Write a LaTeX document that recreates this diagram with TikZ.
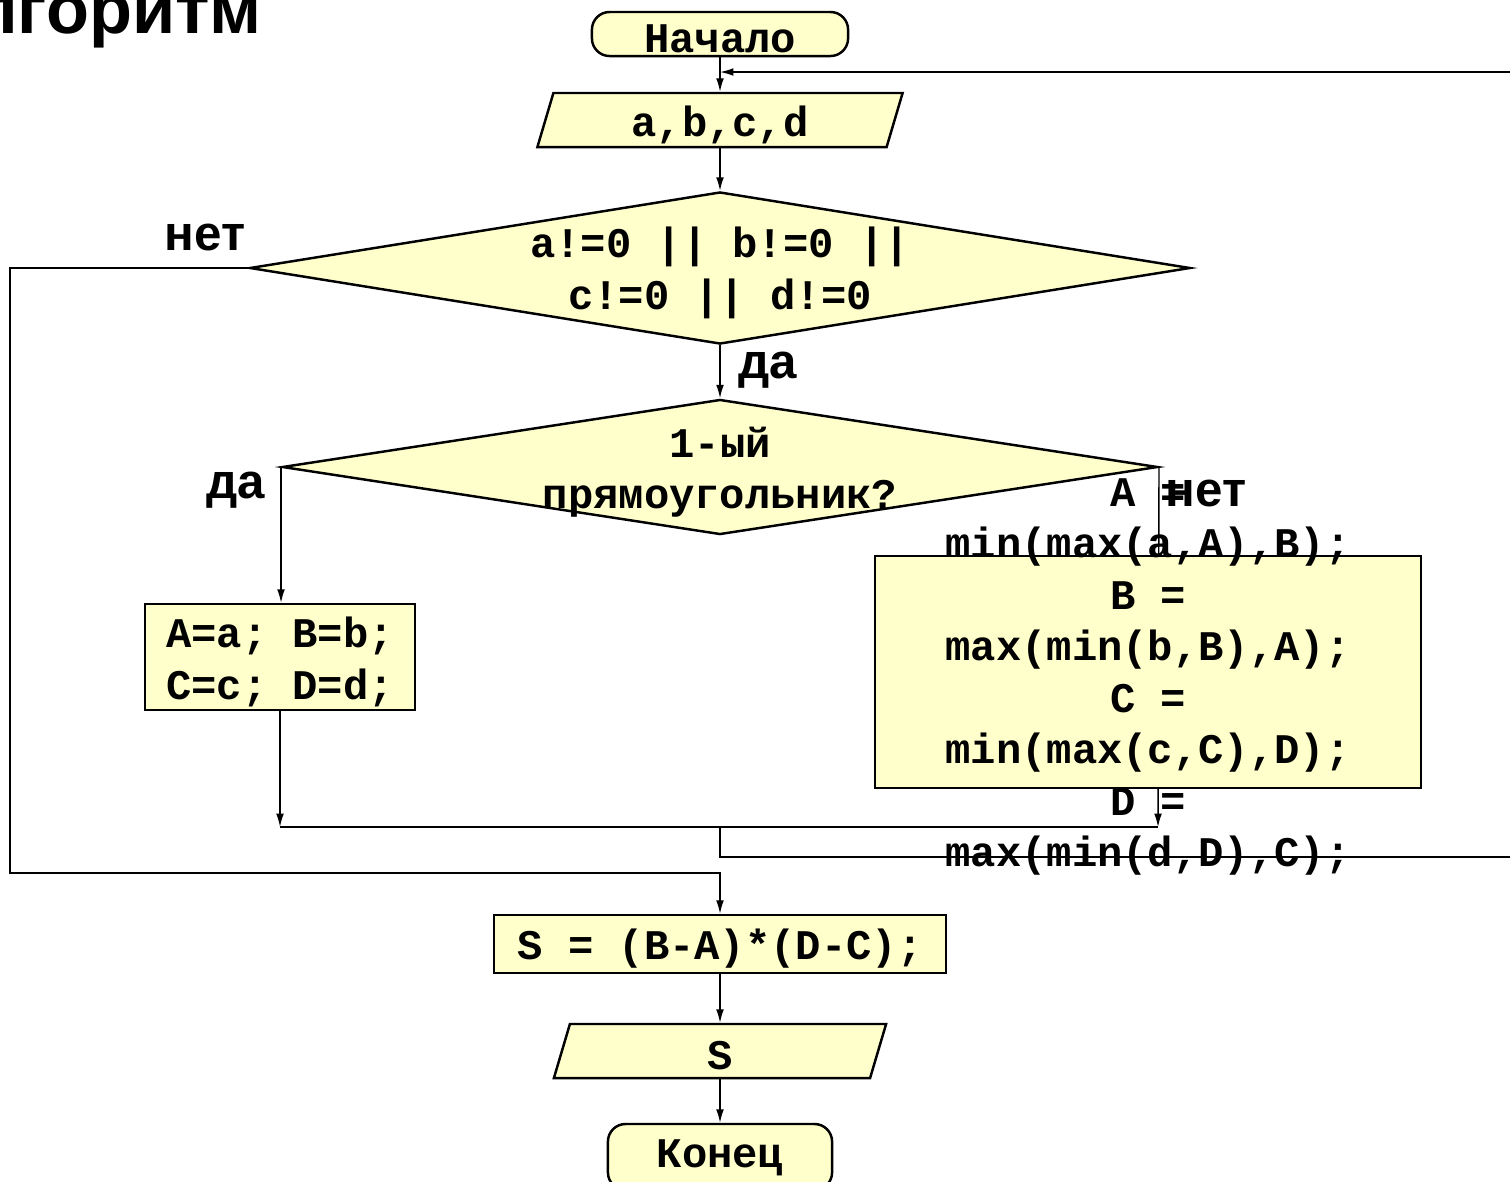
\documentclass[tikz,border=0pt]{standalone}
\usepackage{fontspec}
\setmainfont{Liberation Sans}
\newfontfamily\codefont{Liberation Mono}
\usetikzlibrary{arrows.meta,shapes,positioning,calc,backgrounds}

\definecolor{blockfill}{RGB}{255,255,204}

\tikzset{
  block/.style={draw, fill=blockfill, line width=0.7pt, inner sep=0pt},
  term/.style={block, rounded corners=5pt},
  io/.style={block, trapezium, trapezium left angle=73.5, trapezium right angle=106.5,
             trapezium stretches body, text height=0.54cm, text depth=0pt},
  decision/.style={block, diamond},
  code/.style={font=\codefont\bfseries\fontsize{12}{14.65}\selectfont, align=center, yshift=-0.05cm},
  answer/.style={font=\bfseries\fontsize{14}{16}\selectfont},
}

\begin{document}
\begin{tikzpicture}[x=0.01cm,y=-0.01cm,>={Latex[length=3.8pt,width=2.2pt]},line width=0.6pt]
  \useasboundingbox (0,0) rectangle (1510,1181);

  \node[font=\bfseries\fontsize{20}{24}\selectfont, anchor=base east, inner sep=0pt] (title) at (263,33) {Алгоритм};

  % blocks
  \node[term, minimum width=2.56cm, minimum height=0.44cm,
        label={[code]center:Начало}] (start) at (720,34) {};
  \node[io, minimum width=3.65cm,
        label={[code]center:{a,b,c,d}}] (input) at (720,120) {};
  \node[decision, minimum width=9.4cm, minimum height=1.52cm,
        label={[code]center:{a!=0 || b!=0 ||\\c!=0 || d!=0}}] (cond) at (720,268) {};
  \node[decision, minimum width=8.75cm, minimum height=1.35cm,
        label={[code]center:{1-ый\\прямоугольник?}}] (first) at (720,467) {};
  \node[block, minimum width=2.7cm, minimum height=1.06cm,
        label={[code]center:{A=a; B=b;\\C=c; D=d;}}] (copy) at (280,657) {};
  \node[block, minimum width=5.46cm, minimum height=2.32cm,
        label={[code]center:{A =\\min(max(a,A),B);\\B =\\max(min(b,B),A);\\C =\\min(max(c,C),D);\\D =\\max(min(d,D),C);}}] (bound) at (1148,672) {};
  \node[block, minimum width=4.52cm, minimum height=0.58cm,
        label={[code]center:{S = (B-A)*(D-C);}}] (area) at (720,944) {};
  \node[io, minimum width=3.32cm,
        label={[code]center:S}] (output) at (720,1051) {};
  \node[term, minimum width=2.24cm, minimum height=0.66cm,
        label={[code, yshift=0.04cm]center:Конец}] (stop) at (720,1157) {};

  % branch labels
  \node[answer] (no1) at (205,237) {нет};
  \node[answer] (yes1) at (768,370) {да};
  \node[answer] (yes2) at (236,490) {да};
  \node[answer] (no2) at (1206,493) {нет};

  \coordinate (loopL) at (10,268);
  \coordinate (skip) at (10,873);
  \coordinate (joinL) at (280,827);
  \coordinate (joinM) at (720,827);
  \coordinate (joinR) at (1158,827);
  \coordinate (exit) at (1560,857);
  \coordinate (back) at (720,72);

  \begin{scope}[on background layer]
    \draw[->] (start) -- (input);
    \draw[->] (input) -- (cond);
    \draw[->] (cond) -- (first);
    \draw[->] (cond.west) -- (loopL) -- (skip) -| (area.north);
    \draw[->] (first.west) -- (first.west |- copy.north);
    \draw[->] (copy) -- (joinL);
    \draw[->] (first.east) -- (joinR);
    \draw (joinL) -- (joinR);
    \draw[->] (joinM) |- (exit) |- (back);
    \draw[->] (area) -- (output);
    \draw[->] (output) -- (stop);
  \end{scope}
\end{tikzpicture}
\end{document}
